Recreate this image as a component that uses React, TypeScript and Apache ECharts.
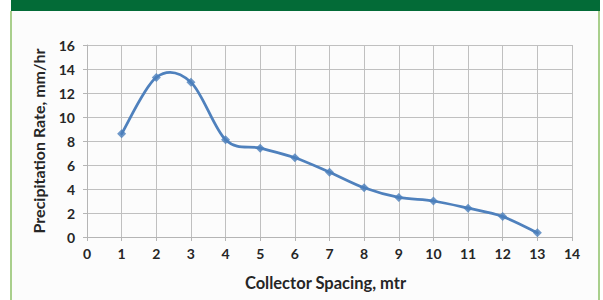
import React, { useEffect, useRef } from "react";
import * as echarts from "echarts";

const spacing = [1, 2, 3, 4, 5, 6, 7, 8, 9, 10, 11, 12, 13];
const rate = [8.6, 13.3, 12.9, 8.1, 7.4, 6.6, 5.4, 4.1, 3.3, 3.0, 2.4, 1.7, 0.35];
const xTitle = "Collector Spacing, mtr";
const yTitle = "Precipitation Rate, mm/hr";

export default function App() {
  const ref = useRef<HTMLDivElement>(null);
  useEffect(() => {
    if (!ref.current) return;
    const chart = echarts.init(ref.current, undefined, { renderer: "svg" });
    const font = "Lato, 'Open Sans', sans-serif";
    const pts = spacing.map((x, i) => [x, rate[i]]);
    const n = pts.length;
    const t = 1 / 6;
    chart.setOption({
      animation: false,
      backgroundColor: "#fcfcfc",
      graphic: [
        { type: "rect", shape: { x: 11, y: 0, width: 589, height: 11 }, style: { fill: "#036b37" }, z: 10 },
        { type: "rect", shape: { x: 10, y: 11, width: 2, height: 289 }, style: { fill: "#a9cf8c" }, z: 10 },
        { type: "rect", shape: { x: 598, y: 11, width: 2, height: 289 }, style: { fill: "#a9cf8c" }, z: 10 },
        { type: "rect", shape: { x: 600, y: 0, width: 3, height: 300 }, style: { fill: "#ffffff" }, z: 10 },
        { type: "rect", shape: { x: 0, y: 0, width: 10, height: 300 }, style: { fill: "#ffffff" }, z: 10 },
      ],
      grid: { left: 87, right: 31, top: 45, bottom: 63, containLabel: false },
      xAxis: {
        type: "value",
        min: 0,
        max: 14,
        interval: 1,
        name: xTitle,
        nameLocation: "middle",
        nameGap: 37,
        nameTextStyle: { fontFamily: font, fontWeight: "bold", fontSize: 16.5, color: "#262626", padding: [0, 8, 0, 0] },
        axisLine: { show: true, lineStyle: { color: "#b5b5b5", width: 1 } },
        axisTick: { show: true, length: 4, lineStyle: { color: "#b5b5b5" } },
        axisLabel: { fontFamily: font, fontWeight: "bold", fontSize: 14, color: "#262626", margin: 9 },
        splitLine: { show: true, lineStyle: { color: "#c0c0c0", width: 1 } },
      },
      yAxis: {
        type: "value",
        min: 0,
        max: 16,
        interval: 2,
        name: yTitle,
        nameLocation: "middle",
        nameGap: 41,
        nameTextStyle: { fontFamily: font, fontWeight: "bold", fontSize: 16, color: "#262626" },
        axisLine: { show: true, lineStyle: { color: "#b5b5b5", width: 1 } },
        axisTick: { show: true, length: 4, lineStyle: { color: "#b5b5b5" } },
        axisLabel: { fontFamily: font, fontWeight: "bold", fontSize: 14, color: "#262626", margin: 12 },
        splitLine: { show: true, lineStyle: { color: "#c0c0c0", width: 1 } },
      },
      series: [
        {
          type: "custom",
          coordinateSystem: "cartesian2d",
          data: pts.slice(0, n - 1),
          silent: true,
          z: 2,
          renderItem: (params: any, api: any) => {
            const i = params.dataIndex;
            const p = (k: number) => api.coord(pts[Math.max(0, Math.min(n - 1, k))]);
            const p0 = p(i - 1);
            const p1 = p(i);
            const p2 = p(i + 1);
            const p3 = p(i + 2);
            return {
              type: "bezierCurve",
              shape: {
                x1: p1[0],
                y1: p1[1],
                x2: p2[0],
                y2: p2[1],
                cpx1: p1[0] + (p2[0] - p0[0]) * t,
                cpy1: p1[1] + (p2[1] - p0[1]) * t,
                cpx2: p2[0] - (p3[0] - p1[0]) * t,
                cpy2: p2[1] - (p3[1] - p1[1]) * t,
              },
              style: { stroke: "#4f81bd", lineWidth: 2.75, fill: "none", lineCap: "round" },
            };
          },
        },
        {
          type: "scatter",
          data: pts,
          symbol: "diamond",
          symbolSize: 9,
          z: 3,
          itemStyle: { color: "#4a7ebb" },
        },
      ],
    });
    return () => chart.dispose();
  }, []);
  return (
    <div
      ref={ref}
      style={{ position: "absolute", left: 0, top: 0, width: 603, height: 300 }}
    />
  );
}
